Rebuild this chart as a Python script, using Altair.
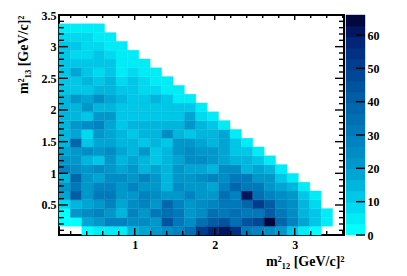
import altair as alt
import numpy as np
import pandas as pd

# ---- axis ranges / binning ----
x_min, x_max = 0.054, 3.616
y_min, y_max = 0.026, 3.5
n_bins = 25
z_max = 66
n_levels = 20

x_labels = [1, 2, 3]
y_labels = [0.5, 1, 1.5, 2, 2.5, 3, 3.5]
z_labels = [0, 10, 20, 30, 40, 50, 60]

# ---- bin contents, one list per row of m13^2 bins (bottom row first) ----
row_00 = [0, 0, 3, 4, 4, 5, 14, 18, 20, 24, 28, 34, 52, 58, 60, 56, 32, 28, 26, 20, 10, 6, 3]
row_01 = [1, 1, 18, 22, 28, 28, 24, 26, 22, 45, 30, 26, 34, 42, 44, 36, 44, 48, 65, 38, 28, 18, 12, 4]
row_02 = [2, 22, 26, 28, 22, 15, 28, 22, 30, 33, 30, 20, 24, 34, 32, 36, 32, 30, 40, 30, 24, 14, 12, 4]
row_03 = [8, 16, 18, 22, 28, 18, 24, 28, 22, 38, 28, 22, 26, 28, 30, 32, 38, 50, 40, 28, 24, 14, 8]
row_04 = [18, 42, 22, 30, 30, 20, 22, 28, 24, 22, 22, 28, 22, 20, 34, 28, 60, 35, 28, 26, 20, 10, 4]
row_05 = [20, 30, 22, 28, 28, 20, 28, 20, 22, 16, 25, 20, 22, 18, 28, 38, 32, 30, 22, 18, 14, 5]
row_06 = [16, 38, 22, 18, 25, 24, 22, 28, 22, 14, 20, 20, 26, 28, 24, 30, 32, 22, 20, 12, 5]
row_07 = [28, 24, 20, 25, 22, 18, 20, 15, 18, 16, 20, 18, 18, 16, 26, 26, 16, 18, 14, 4]
row_08 = [20, 22, 15, 12, 22, 14, 18, 15, 10, 16, 18, 24, 24, 22, 18, 16, 16, 12, 6]
row_09 = [18, 22, 25, 22, 25, 18, 16, 22, 12, 16, 22, 24, 22, 20, 18, 12, 10, 5]
row_10 = [16, 38, 12, 18, 18, 15, 16, 10, 15, 11, 20, 20, 18, 16, 18, 10, 5]
row_11 = [16, 18, 8, 20, 18, 15, 12, 15, 15, 25, 16, 12, 16, 14, 18, 4]
row_12 = [16, 22, 25, 28, 18, 12, 14, 14, 14, 14, 16, 22, 14, 12, 4]
row_13 = [16, 15, 13, 22, 22, 12, 11, 10, 10, 10, 10, 18, 7, 6]
row_14 = [14, 14, 20, 14, 16, 12, 11, 10, 10, 10, 10, 13, 5]
row_15 = [14, 20, 18, 25, 18, 15, 13, 12, 16, 11, 6, 4]
row_16 = [12, 12, 13, 15, 15, 12, 11, 9, 7, 6, 4]
row_17 = [12, 12, 15, 10, 16, 8, 10, 9, 5, 4]
row_18 = [11, 17, 12, 9, 13, 5, 7, 6, 4]
row_19 = [11, 11, 10, 13, 12, 5, 6, 5]
row_20 = [10, 9, 8, 11, 8, 4, 4]
row_21 = [10, 12, 9, 8, 6, 4]
row_22 = [8, 8, 7, 6, 4]
row_23 = [6, 6, 5, 4]

rows = [row_00, row_01, row_02, row_03, row_04, row_05, row_06, row_07,
        row_08, row_09, row_10, row_11, row_12, row_13, row_14, row_15,
        row_16, row_17, row_18, row_19, row_20, row_21, row_22, row_23]

dx = (x_max - x_min) / n_bins
dy = (y_max - y_min) / n_bins
recs = []
for r, vals in enumerate(rows):
    for c, v in enumerate(vals):
        if v > 0:
            recs.append({"x0": x_min + c * dx, "x1": x_min + (c + 1) * dx,
                         "y0": y_min + r * dy, "y1": y_min + (r + 1) * dy, "v": v})
cells = pd.DataFrame(recs)

# ---- palette (cyan -> navy, 20 contour levels) ----
anchor_v = [0, 10, 20, 30, 40, 50, 60, 66]
anchor_rgb = [(0, 255, 255), (0, 200, 232), (0, 154, 204), (0, 124, 188),
              (0, 98, 170), (0, 68, 148), (0, 34, 118), (0, 8, 64)]
palette = []
for i in range(n_levels):
    t = i * z_max / (n_levels - 1)
    rgb = [int(round(np.interp(t, anchor_v, [a[k] for a in anchor_rgb]))) for k in range(3)]
    palette.append("#%02x%02x%02x" % tuple(rgb))

cscale = alt.Scale(type="quantize", domain=[0, z_max], range=palette, nice=False, zero=False)

FONT = "Liberation Serif"
W, H = 285, 220

xscale = alt.Scale(domain=[x_min, x_max], nice=False, zero=False)
yscale = alt.Scale(domain=[y_min, y_max], nice=False, zero=False)
xaxis = alt.Axis(values=x_labels, format="~g", ticks=False, tickSize=0, domain=False, grid=False,
                 labelPadding=4, title="m\u00b2\u2081\u2082 [GeV/c]\u00b2", titleAnchor="end",
                 titlePadding=4)
yaxis = alt.Axis(values=y_labels, format="~g", ticks=False, tickSize=0, domain=False, grid=False,
                 labelPadding=3, title="m\u00b2\u2081\u2083 [GeV/c]\u00b2", titleAnchor="end",
                 titlePadding=11)

heat = alt.Chart(cells).mark_rect(strokeWidth=0.4).encode(
    x=alt.X("x0:Q", scale=xscale, axis=xaxis),
    x2="x1:Q",
    y=alt.Y("y0:Q", scale=yscale, axis=yaxis),
    y2="y1:Q",
    color=alt.Color("v:Q", scale=cscale, legend=None),
    stroke=alt.Stroke("v:Q", scale=cscale, legend=None),
)

x_minor = [round(0.2 * k, 2) for k in range(1, 19) if round(0.2 * k, 2) not in x_labels]
y_minor = [round(0.1 * k, 2) for k in range(1, 35) if round(0.1 * k, 2) not in y_labels]
xmaj_df = pd.DataFrame({"t": x_labels})
xmin_df = pd.DataFrame({"t": x_minor})
ymaj_df = pd.DataFrame({"t": y_labels})
ymin_df = pd.DataFrame({"t": y_minor})


def xticks(df, y0, y1):
    return alt.Chart(df).mark_rule(color="black", strokeWidth=1.4).encode(
        x=alt.X("t:Q", scale=xscale, axis=xaxis), y=alt.value(y0), y2=alt.value(y1))


def yticks(df, x0, x1):
    return alt.Chart(df).mark_rule(color="black", strokeWidth=1.4).encode(
        y=alt.Y("t:Q", scale=yscale, axis=yaxis), x=alt.value(x0), x2=alt.value(x1))


main = alt.layer(
    heat,
    xticks(xmaj_df, H, H - 7), xticks(xmin_df, H, H - 4),
    xticks(xmaj_df, 0, 5), xticks(xmin_df, 0, 3),
    yticks(ymaj_df, 0, 9), yticks(ymin_df, 0, 5),
    yticks(ymaj_df, W, W - 9), yticks(ymin_df, W, W - 5),
).properties(width=W, height=H,
             view=alt.ViewBackground(stroke="black", strokeWidth=2))

# ---- colour bar ----
step = z_max / n_levels
bands = pd.DataFrame({"lo": [i * step for i in range(n_levels)],
                      "hi": [(i + 1) * step for i in range(n_levels)],
                      "mid": [(i + 0.5) * step for i in range(n_levels)]})
zscale = alt.Scale(domain=[0, z_max], nice=False, zero=False)
zaxis = alt.Axis(values=z_labels, orient="right", ticks=False, tickSize=0, domain=False,
                 grid=False, labelPadding=2, title=None)

cb_rect = alt.Chart(bands).mark_rect(strokeWidth=0.4).encode(
    x=alt.value(0), x2=alt.value(19),
    y=alt.Y("lo:Q", scale=zscale, axis=zaxis), y2="hi:Q",
    color=alt.Color("mid:Q", scale=cscale, legend=None),
    stroke=alt.Stroke("mid:Q", scale=cscale, legend=None),
)
cb_ticks = alt.Chart(pd.DataFrame({"t": z_labels})).mark_rule(color="black", strokeWidth=1.4).encode(
    y=alt.Y("t:Q", scale=zscale, axis=zaxis), x=alt.value(10), x2=alt.value(19))

cbar = alt.layer(cb_rect, cb_ticks).properties(
    width=19, height=H, view=alt.ViewBackground(stroke="transparent"))

chart = alt.hconcat(main, cbar, spacing=2, bounds="flush").resolve_scale(
    color="shared", stroke="shared", y="independent"
).properties(
    padding={"left": 6, "top": 0, "right": 0, "bottom": 0},
    background="white",
).configure_axis(
    labelFont=FONT, labelFontWeight="bold", labelFontSize=12, labelColor="black",
    titleFont=FONT, titleFontWeight="bold", titleFontSize=14, titleColor="black",
)

chart.save("out.html", embed_options={"renderer": "svg", "actions": False})
